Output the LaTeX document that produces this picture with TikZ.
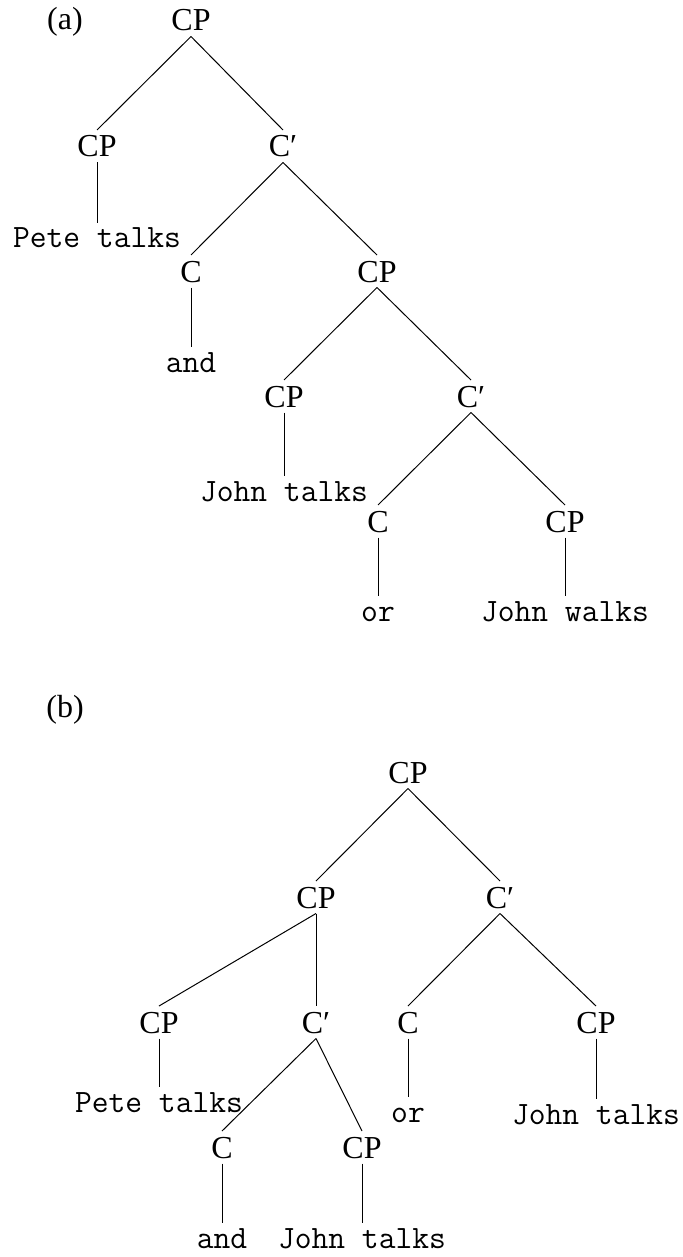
\documentclass[tikz,border=0pt]{standalone}
\usepackage{fontspec}
\setmainfont{Liberation Serif}
\begin{document}
\begin{tikzpicture}[x=0.5pt,y=-0.5pt,
  cat/.style={inner sep=0pt, outer sep=0pt, anchor=base, text height=13.5pt, text depth=2.75pt, font=\fontsize{16}{18}\selectfont},
  term/.style={inner sep=0pt, outer sep=0pt, anchor=base, text height=12.5pt, text depth=2.75pt, font=\fontsize{16.3}{18}\selectfont\ttfamily},
  lbl/.style={inner sep=0pt, outer sep=0pt, anchor=base, font=\fontsize{16}{18}\selectfont},
  edge/.style={line width=0.5pt}]
\useasboundingbox (0,0) rectangle (683,1257);
% ---------- (a) ----------
\node[lbl] (la) at (65,30) {(a)};
\node[cat] (a1) at (191,31) {CP};
\node[cat] (a2) at (97,157) {CP};
\node[cat] (a3) at (283,157) {C′};
\node[term] (a4) at (97,248) {Pete talks};
\node[cat] (a5) at (191,282) {C};
\node[cat] (a6) at (377,282) {CP};
\node[term] (a7) at (191,372) {and};
\node[cat] (a8) at (284,407) {CP};
\node[cat] (a9) at (471,407) {C′};
\node[term] (a10) at (284,501) {John talks};
\node[cat] (a11) at (378,532) {C};
\node[cat] (a12) at (565,532) {CP};
\node[term] (a13) at (378,621) {or};
\node[term] (a14) at (565,621) {John walks};
\draw[edge] (a1.south) -- (a2.north);
\draw[edge] (a1.south) -- (a3.north);
\draw[edge] (a2.south) -- (a4.north);
\draw[edge] (a3.south) -- (a5.north);
\draw[edge] (a3.south) -- (a6.north);
\draw[edge] (a5.south) -- (a7.north);
\draw[edge] (a6.south) -- (a8.north);
\draw[edge] (a6.south) -- (a9.north);
\draw[edge] (a8.south) -- (a10.north);
\draw[edge] (a9.south) -- (a11.north);
\draw[edge] (a9.south) -- (a12.north);
\draw[edge] (a11.south) -- (a13.north);
\draw[edge] (a12.south) -- (a14.north);
% ---------- (b) ----------
\node[lbl] (lb) at (65,717) {(b)};
\node[cat] (b1) at (408,783) {CP};
\node[cat] (b2) at (316,908) {CP};
\node[cat] (b3) at (500,908) {C′};
\node[cat] (b4) at (159,1033) {CP};
\node[cat] (b5) at (316,1033) {C′};
\node[cat] (b6) at (408,1033) {C};
\node[cat] (b7) at (596,1033) {CP};
\node[term] (b8) at (159,1112) {Pete talks};
\node[term] (b9) at (408,1122) {or};
\node[term] (b10) at (596,1124) {John talks};
\node[cat] (b11) at (222,1158) {C};
\node[cat] (b12) at (362,1158) {CP};
\node[term] (b13) at (222,1248) {and};
\node[term] (b14) at (362,1248) {John talks};
\draw[edge] (b1.south) -- (b2.north);
\draw[edge] (b1.south) -- (b3.north);
\draw[edge] (b2.south) -- (b4.north);
\draw[edge] (b2.south) -- (b5.north);
\draw[edge] (b3.south) -- (b6.north);
\draw[edge] (b3.south) -- (b7.north);
\draw[edge] (b4.south) -- (b8.north);
\draw[edge] (b5.south) -- (b11.north);
\draw[edge] (b5.south) -- (b12.north);
\draw[edge] (b6.south) -- (b9.north);
\draw[edge] (b7.south) -- (b10.north);
\draw[edge] (b11.south) -- (b13.north);
\draw[edge] (b12.south) -- (b14.north);
\end{tikzpicture}
\end{document}
